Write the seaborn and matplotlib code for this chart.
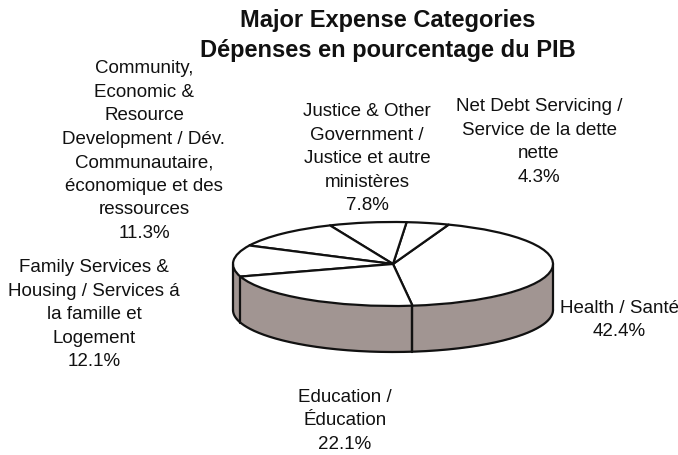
import numpy as np
import matplotlib
matplotlib.use("Agg")
import matplotlib.pyplot as plt
import seaborn as sns

sns.set_theme(style="white")
plt.rcParams["font.family"] = ["Liberation Sans", "DejaVu Sans"]

# Expense shares, in counter-clockwise drawing order starting from Health
categories = [
    "Health / Santé",
    "Net Debt Servicing /\nService de la dette\nnette",
    "Justice & Other\nGovernment /\nJustice et autre\nministères",
    "Community,\nEconomic &\nResource\nDevelopment / Dév.\nCommunautaire,\néconomique et des\nressources",
    "Family Services &\nHousing / Services á\nla famille et\nLogement",
    "Education /\nÉducation",
]
shares = [42.4, 4.3, 7.8, 11.3, 12.1, 22.1]

title_lines = ["Major Expense Categories", "Dépenses en pourcentage du PIB"]

# label block centres in figure pixels (x from left, y from top)
label_pos = [(619, 320), (539, 142), (367, 159), (144, 151), (94, 315), (345, 421)]

W, H = 678, 456
fig = plt.figure(figsize=(W / 100, H / 100), dpi=100)
fig.patch.set_facecolor("white")

# pie geometry in pixels: centre, semi-axes and rim depth
cx, cy, a, b, depth = 393, 265, 160, 42, 46
d = depth / b
pad = 0.06
x0, x1 = -1 - pad, 1 + pad
y0, y1 = -1 - d - pad * 2, 1 + pad * 2
left_px = cx + x0 * a
right_px = cx + x1 * a
top_px = cy - y1 * b
bot_px = cy - y0 * b
ax = fig.add_axes([left_px / W, 1 - bot_px / H, (right_px - left_px) / W, (bot_px - top_px) / H])

start = -83.0
side_color = "#a19592"
edge = "#111111"
lw = 1.6

# visible front rim (angles 180..360)
t = np.radians(np.linspace(180, 360, 400))
xs, ys = np.cos(t), np.sin(t)
ax.fill_between(xs, ys, ys - d, color=side_color, zorder=1, lw=0)
ax.plot(xs, ys - d, color=edge, lw=lw, zorder=2, solid_capstyle="round")
for xv in (-1, 1):
    ax.plot([xv, xv], [0, -d], color=edge, lw=lw, zorder=2, solid_capstyle="round")

# slice boundaries that fall on the front rim
bounds = start + 360 * np.cumsum([0] + shares) / sum(shares)
for ang in bounds:
    ang_n = ang % 360
    if 180 < ang_n < 360:
        r = np.radians(ang_n)
        ax.plot([np.cos(r)] * 2, [np.sin(r), np.sin(r) - d], color=edge, lw=lw, zorder=2)

# top face
ax.pie(shares, startangle=start, counterclock=True, colors=["white"] * len(shares),
       wedgeprops=dict(edgecolor=edge, linewidth=lw, joinstyle="round"), radius=1)
for p in ax.patches:
    p.set_zorder(3)
ax.set_aspect("auto")
ax.set_xlim(x0, x1)
ax.set_ylim(y0, y1)
ax.axis("off")

# category labels with percentages
for name, v, (px, py) in zip(categories, shares, label_pos):
    fig.text(px / W, 1 - py / H, f"{name}\n{v:.1f}%", ha="center", va="center",
             fontsize=13.5, color="#111111", linespacing=1.5, multialignment="center")

fig.text(388 / W, 1 - 21 / H, title_lines[0], ha="center", va="center",
         fontsize=17, fontweight="bold", color="#111111")
fig.text(388 / W, 1 - 51 / H, title_lines[1], ha="center", va="center",
         fontsize=17, fontweight="bold", color="#111111")

fig.savefig("out.png", dpi=100, facecolor="white")
